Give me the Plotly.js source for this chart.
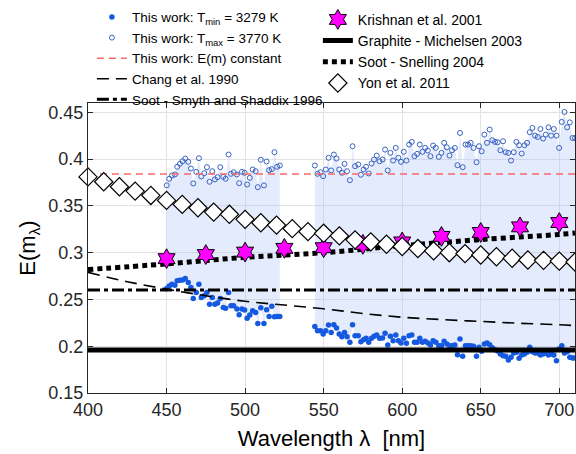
<!DOCTYPE html>
<html><head><meta charset="utf-8">
<script src="https://cdn.plot.ly/plotly-3.0.1.min.js"></script>
<style>html,body{margin:0;padding:0;background:#fff}#chart{width:576px;height:454px}</style>
</head><body><div id="chart"></div>
<script>
// ---- This work: measured spectra (two wavelength windows) ----
const wlLeft = [450.1,451.7,453.4,455.3,456.8,458.5,460.2,461.9,463.8,465.5,467.0,468.9,470.6,472.1,474.0,475.7,477.4,479.1,480.8,482.5,484.2,486.1,487.6,489.5,491.0,492.7,494.8,496.2,498.0,499.7,501.3,503.0,504.8,506.7,508.1,510.0,512.0,513.7,515.3,517.0,518.7,520.4,522.1];
const tmaxLeft = [0.372,0.379,0.3825,0.3836,0.3918,0.395,0.3978,0.4006,0.3971,0.390,0.374,0.3864,0.401,0.3815,0.385,0.3914,0.3758,0.3871,0.3783,0.3807,0.3914,0.3811,0.379,0.4049,0.3843,0.386,0.3836,0.3743,0.3864,0.3854,0.3729,0.380,0.3889,0.3871,0.370,0.3993,0.3719,0.3975,0.3882,0.3893,0.4074,0.3918,0.3932];
const tminLeft = [0.2617,0.2645,0.2663,0.2653,0.2699,0.2706,0.2709,0.2724,0.2681,0.2628,0.2511,0.2575,0.2663,0.2522,0.2539,0.2575,0.245,0.2522,0.245,0.2461,0.2511,0.2415,0.2407,0.2575,0.2432,0.2432,0.2397,0.2336,0.2397,0.2386,0.2298,0.2333,0.2379,0.2361,0.2244,0.2411,0.2244,0.2389,0.2319,0.2426,0.2315,0.2319,0.2319];
const wlRight = [544.4,546.1,548.0,549.7,551.4,553.1,554.8,556.5,558.2,559.9,561.6,563.3,564.9,566.7,568.4,570.0,572.0,573.7,575.4,577.0,578.7,580.5,582.1,583.8,585.6,587.5,589.1,590.8,592.5,594.2,595.9,597.6,599.3,601.0,602.7,604.4,606.1,607.8,609.5,611.2,612.9,614.6,616.3,618.0,619.7,621.4,623.3,625.0,626.7,628.4,630.1,631.7,633.5,635.2,636.8,638.5,640.3,641.9,643.6,645.4,647.3,648.9,650.6,652.3,654.0,655.7,657.4,659.1,660.8,662.5,664.2,665.9,667.6,669.3,671.0,672.7,674.4,676.1,677.8,679.5,681.2,682.9,684.6,686.3,688.0,689.7,691.4,693.1,694.8,696.5,698.2,699.9,701.6,703.3,705.0,706.7,708.4,710.0];
const tmaxRight = [0.3932,0.3843,0.386,0.3818,0.3889,0.4014,0.3879,0.4049,0.4006,0.3889,0.3854,0.395,0.3871,0.3775,0.4138,0.3925,0.3943,0.3833,0.3889,0.3918,0.3847,0.3953,0.3996,0.4038,0.3978,0.3996,0.4102,0.3879,0.4067,0.3985,0.412,0.4014,0.3971,0.4078,0.3985,0.4156,0.4184,0.4031,0.4056,0.4156,0.4078,0.412,0.4092,0.4031,0.4145,0.412,
  0.4024,0.4067,0.4174,0.4127,0.4038,0.4095,0.412,0.3935,0.428,0.3914,0.4156,0.4156,0.4174,0.412,0.3967,0.4138,0.4084,0.4262,0.4174,0.4316,0.4202,0.4184,0.418,0.4095,0.4191,0.4074,0.4067,0.3985,0.4074,0.4184,0.4148,0.406,0.4148,0.4174,0.4287,0.4333,0.4251,0.4237,0.4322,0.422,0.4262,0.434,0.4251,0.4322,0.4251,0.412,0.4398,0.4504,0.434,0.4393,0.4226,0.4226];
const tminRight = [0.2212,0.2166,0.2166,0.2130,0.2166,0.2226,0.2148,0.2230,0.2194,0.2130,0.2102,0.2148,0.2102,0.2042,0.2230,0.2113,0.2113,0.2048,0.2070,0.2084,0.2042,0.2084,0.2106,0.2120,0.2084,0.2088,0.2138,0.2013,0.2106,0.2059,0.2120,0.2059,0.2034,0.2084,0.2031,0.2113,0.2120,0.2042,0.2042,0.2084,0.2042,0.2052,0.2034,0.2013,0.2059,0.2042,
  0.2006,0.2006,0.2052,0.2024,0.2006,0.2006,0.2013,0.191,0.2077,0.1892,0.2006,0.2006,0.2006,0.1999,0.1892,0.1988,0.1945,0.2024,0.2034,0.2017,0.1985,0.1963,0.1949,0.1917,0.1899,0.1892,0.1853,0.1882,0.1928,0.1935,0.1871,0.1906,0.1917,0.1935,0.1988,0.1942,0.1928,0.1928,0.1906,0.1917,0.1928,0.1906,0.1917,0.1906,0.1846,0.197,0.2006,0.1928,0.1942,0.1882,0.1874,0.1874];
const emConstant = 0.384;

// ---- Literature ----
const spanWl = [400, 710];
const changWl = [400,425,450,475,500,525,550,575,600,625,650,675,700,710];
const changE  = [0.279,0.269,0.261,0.254,0.248,0.244,0.240,0.235,0.231,0.2285,0.2265,0.2245,0.223,0.222];
const smythE = 0.26;
const graphiteE = 0.196;
const snellingWl = [400,450,500,550,600,650,700,710];
const snellingE  = [0.282,0.288,0.295,0.300,0.3075,0.314,0.3195,0.321];
const krishnanWl = [450,475,500,525,550,575,600,625,650,675,700];
const krishnanE  = [0.2936,0.298,0.3006,0.3046,0.3053,0.3089,0.3115,0.3174,0.3216,0.3276,0.3322];
const yonWl = [400,410,420,430,440,450,460,470,480,490,500,510,520,530,540,550,560,570,580,590,600,610,620,630,640,650,660,670,680,690,700,710];
const yonE  = [0.381,0.3758,0.3705,0.3658,0.3612,0.3559,0.3516,0.348,0.3434,0.341,0.3356,0.332,0.3295,0.3257,0.3225,0.3207,0.318,0.3137,0.3116,0.309,0.3066,0.3044,0.302,0.300,0.299,0.2975,0.2957,0.294,0.2922,0.2918,0.291,0.290];

const bandFill = 'rgba(170,195,245,0.33)';
const traces = [];
function band(wl, lo, hi){
  traces.push({x: wl, y: lo, mode:'lines', line:{width:0, color:bandFill}, showlegend:false, hoverinfo:'skip'});
  traces.push({x: wl, y: hi, mode:'lines', line:{width:0, color:bandFill}, fill:'tonexty', fillcolor:bandFill, showlegend:false, hoverinfo:'skip'});
}
band(wlLeft, tminLeft, tmaxLeft);
band(wlRight, tminRight, tmaxRight);

const wlAll = wlLeft.concat(wlRight);
traces.push({name:'This work: T<sub>min</sub> = 3279 K', x: wlAll, y: tminLeft.concat(tminRight), mode:'markers',
  marker:{symbol:'circle', size:5.5, color:'#1459e0', line:{width:0}}, legend:'legend', legendrank:1});
traces.push({name:'This work: T<sub>max</sub> = 3770 K', x: wlAll, y: tmaxLeft.concat(tmaxRight), mode:'markers',
  marker:{symbol:'circle-open', size:5, color:'#3a63c4', line:{width:1}}, legend:'legend', legendrank:2});
traces.push({name:'This work: E(m) constant', x: spanWl, y: spanWl.map(()=>emConstant), mode:'lines',
  line:{color:'#f86a6a', width:1.5, dash:'7px,5px'}, legend:'legend', legendrank:3});
traces.push({name:'Chang et al. 1990', x: changWl, y: changE, mode:'lines',
  line:{color:'#000', width:1.6, dash:'12px,7px', shape:'spline'}, legend:'legend', legendrank:4});
traces.push({name:'Soot - Smyth and Shaddix 1996', x: spanWl, y: spanWl.map(()=>smythE), mode:'lines',
  line:{color:'#000', width:3, dash:'12px,4px,4px,4px'}, legend:'legend', legendrank:5});
traces.push({name:'Graphite - Michelsen 2003', x: spanWl, y: spanWl.map(()=>graphiteE), mode:'lines',
  line:{color:'#000', width:5}, legend:'legend2', legendrank:2});
traces.push({name:'Soot - Snelling 2004', x: snellingWl, y: snellingE, mode:'lines',
  line:{color:'#000', width:5, dash:'5px,4px', shape:'spline'}, legend:'legend2', legendrank:3});
traces.push({name:'Krishnan et al. 2001', x: krishnanWl, y: krishnanE, mode:'markers',
  marker:{symbol:'hexagram', size:15, color:'#ff00ff', line:{color:'#000', width:1}}, legend:'legend2', legendrank:1});
traces.push({name:'Yon et al. 2011', x: yonWl, y: yonE, mode:'markers', cliponaxis:false,
  marker:{symbol:'diamond', size:14, color:'#fff', line:{color:'#000', width:1.2}}, legend:'legend2', legendrank:4});

const axisCommon = {ticks:'inside', ticklen:5, tickcolor:'#262626', showline:true, linecolor:'#262626', linewidth:1,
  mirror:'ticks', showgrid:true, gridcolor:'#e2e2e2', gridwidth:1, zeroline:false, tickfont:{size:18, color:'#262626'}};
const layout = {
  width:576, height:454,
  margin:{l:88, r:1, t:103, b:61},
  paper_bgcolor:'#fff', plot_bgcolor:'#fff',
  font:{family:'Liberation Sans, Arial, Helvetica, sans-serif', color:'#000'},
  xaxis:Object.assign({}, axisCommon, {range:[400,710], tick0:400, dtick:50,
    title:{text:'Wavelength λ  [nm]', font:{size:22, color:'#000'}, standoff:12}}),
  yaxis:Object.assign({}, axisCommon, {range:[0.15,0.46], tick0:0.15, dtick:0.05,
    title:{text:'E(m<sub>λ</sub>)', font:{size:22, color:'#000'}, standoff:6}}),
  legend:{x:0.008, y:1.349, xanchor:'left', yanchor:'top', traceorder:'normal', bgcolor:'rgba(0,0,0,0)', font:{size:13.5, color:'#000'}, tracegroupgap:0},
  legend2:{x:0.472, y:1.342, xanchor:'left', yanchor:'top', traceorder:'normal', bgcolor:'rgba(0,0,0,0)', font:{size:14, color:'#000'}, tracegroupgap:0},
  showlegend:true
};
Plotly.newPlot('chart', traces, layout, {displayModeBar:false, staticPlot:true});
</script></body></html>
